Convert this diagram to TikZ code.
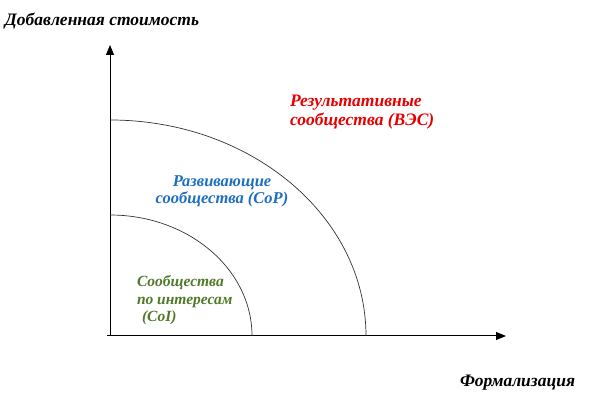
\documentclass[tikz,border=0pt]{standalone}
\usepackage{fontspec}
\setmainfont{Liberation Serif}
\usepackage{xcolor}
\usepackage{tikz}
\usetikzlibrary{positioning}
\usetikzlibrary{arrows.meta}
\definecolor{resred}{RGB}{230,0,0}
\definecolor{devblue}{RGB}{30,110,192}
\definecolor{intgreen}{RGB}{79,122,40}
\begin{document}
\begin{tikzpicture}[x=1pt, y=1pt,
                    axis/.style = { draw, black, line width = 1pt, -{Triangle[length = 10pt, width = 8pt]} },
                    ring/.style = { draw, black!80, line width = 0.7pt },
                    lbl/.style = { font = \fontsize{17.5}{19.5}\selectfont\bfseries\itshape, inner sep=0pt, outer sep=0pt, align = left },
                    small/.style = { font = \fontsize{#1}{17.5}\selectfont\bfseries\itshape },
                ]
                    \useasboundingbox (0,0) rectangle (591,401);
                    \coordinate (O) at (110,65);
                    \coordinate (Xstart) at (107,65);
                    \coordinate (Xend) at (506,65);
                    \coordinate (Yend) at (110,356);
                    \draw[axis] (Xstart) -- (Xend);
                    \draw[axis] (O) -- (Yend);
                    \draw[ring] (O) ++(142,0) arc[start angle = 0, end angle = 90, x radius = 142, y radius = 121];
                    \draw[ring] (O) ++(256,0) arc[start angle = 0, end angle = 90, x radius = 256, y radius = 216];
                    \node[lbl, anchor = base west] (Value) at (5,375) {Добавленная стоимость};
                    \node[lbl, anchor = base west] (Formal) at (460,14) {Формализация};
                    \node[lbl, anchor = base west, text = resred] (Res) at (290,275) {Результативные\\сообщества (ВЭС)};
                    \node[lbl, small = 16.5, anchor = base, align = center, text = devblue] (Dev) at (222,197) {Развивающие\\сообщества (CoP)};
                    \node[lbl, small = 15.5, anchor = base west, text = intgreen] (Int) at (137,79) {Сообщества\\по интересам\\\hspace*{5pt}(CoI)};
                \end{tikzpicture}
\end{document}
